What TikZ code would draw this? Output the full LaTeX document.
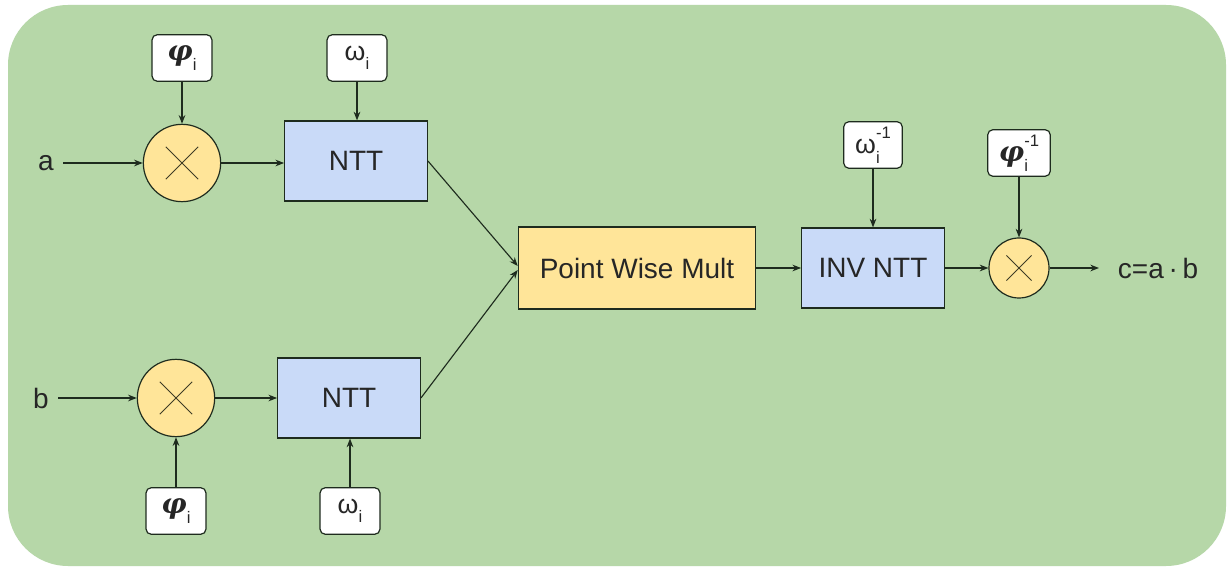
\documentclass[tikz,border=0pt]{standalone}
\usepackage{fontspec}
\setmainfont{Liberation Sans}
\newfontfamily\phifont{DejaVu Serif}
\usetikzlibrary{arrows.meta}
\definecolor{bggreen}{HTML}{B6D7A8}
\definecolor{boxblue}{HTML}{C9DAF8}
\definecolor{boxyellow}{HTML}{FFE599}
\definecolor{lin}{HTML}{1E2B1E}
\newcommand{\phisym}{{\fontsize{21}{22}\phifont\bfseries\itshape φ}}
\newcommand{\omsym}{{\fontsize{20}{22}\selectfont ω}}
\newcommand{\scr}[1]{{\fontsize{12.5}{13}\selectfont #1}}
\newcommand{\lsub}[1]{#1\raisebox{-0.4em}{\scr{i}}}
\newcommand{\lsubsup}[1]{#1\rlap{\raisebox{-0.4em}{\scr{i}}}\raisebox{0.65em}{\scr{-1}}}
\tikzset{
  every node/.style={text=black!85},
  bluebox/.style={draw=lin, line width=0.9pt, fill=boxblue, minimum width=107pt, minimum height=60pt, font=\fontsize{21}{24}\selectfont},
  multbox/.style={draw=lin, line width=0.9pt, fill=boxyellow, minimum width=178pt, minimum height=61.5pt, font=\fontsize{21}{24}\selectfont},
  mulcirc/.style={draw=lin, line width=0.9pt, fill=boxyellow, circle, minimum size=#1, inner sep=0pt,
    path picture={\draw[lin!80!brown, line width=0.7pt] ([shift={(-0.21*#1,-0.21*#1)}]path picture bounding box.center) -- ([shift={(0.21*#1,0.21*#1)}]path picture bounding box.center)
      ([shift={(-0.21*#1,0.21*#1)}]path picture bounding box.center) -- ([shift={(0.21*#1,-0.21*#1)}]path picture bounding box.center);}},
  parbox/.style={draw=lin, line width=0.9pt, fill=white, rounded corners=4pt, minimum width=45pt, minimum height=35pt, inner sep=1pt, font=\fontsize{18}{20}\selectfont},
  io/.style={font=\fontsize{21}{24}\selectfont, inner xsep=7pt, inner ysep=2pt},
  conn/.style={draw=lin, line width=0.85pt, -{Stealth[length=6.5pt,width=5pt]}},
}
\begin{document}
\begin{tikzpicture}[x=0.75pt,y=-0.75pt]
\useasboundingbox (0,0) rectangle (1228,570);
\fill[white] (0,0) rectangle (1228,570);
\fill[bggreen, rounded corners=45pt] (8,5) rectangle (1226,566);

% inputs
\node[io] (a) at (46,163) {a};
\node[io] (b) at (41,398) {b};

% top branch
\node[mulcirc=58pt] (m1) at (182,163) {};
\node[bluebox] (ntt1) at (356,161) {NTT};
\node[parbox] (p1) at (182,58) {\lsub{\phisym}};
\node[parbox] (w1) at (357,58) {\lsub{\omsym}};

% bottom branch
\node[mulcirc=58pt] (m2) at (176,398) {};
\node[bluebox] (ntt2) at (349,398) {NTT};
\node[parbox] (p2) at (176,511) {\lsub{\phisym}};
\node[parbox] (w2) at (350,511) {\lsub{\omsym}};

% middle / right
\node[multbox] (pwm) at (637,268) {Point Wise Mult};
\node[bluebox] (inv) at (873,268) {INV NTT};
\node[parbox, minimum width=44pt] (wi) at (873,145) {\lsubsup{\omsym}};
\node[parbox, minimum width=47pt] (pi) at (1019,153) {\lsubsup{\phisym}};
\node[mulcirc=45pt] (m3) at (1019,268) {};
\node[io, inner xsep=14pt] (c) at (1158,268) {c=a\,·\,b};

% connectors
\draw[conn] (a) -- (m1);
\draw[conn] (m1) -- (ntt1.west |- m1);
\draw[conn] (p1) -- (m1);
\draw[conn] (w1) -- (ntt1.north -| w1);
\draw[conn] (b) -- (m2);
\draw[conn] (m2) -- (ntt2.west |- m2);
\draw[conn] (p2) -- (m2);
\draw[conn] (w2) -- (ntt2.south -| w2);
\draw[conn] (ntt1.east) -- ([yshift=1.5pt]pwm.west);
\draw[conn] (ntt2.east) -- ([yshift=-1.5pt]pwm.west);
\draw[conn] (pwm) -- (inv);
\draw[conn] (wi) -- (inv.north -| wi);
\draw[conn] (inv) -- (m3);
\draw[conn] (pi) -- (m3);
\draw[conn] (m3) -- (c);
\end{tikzpicture}
\end{document}
